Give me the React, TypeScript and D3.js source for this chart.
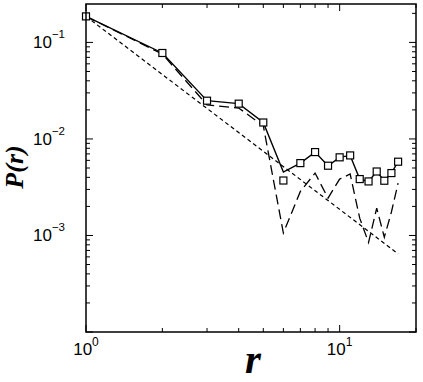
import React from "react";
import * as d3 from "d3";

// r = 1..17
const rValues = [1, 2, 3, 4, 5, 6, 7, 8, 9, 10, 11, 12, 13, 14, 15, 16, 17];
const solidValues = [0.186, 0.0777, 0.0249, 0.0232, 0.0148, 0.00454, 0.00562, 0.00731, 0.00528, 0.00645, 0.00675, 0.00384, 0.00363, 0.0046, 0.00369, 0.00443, 0.00581];
const squareValues = [0.186, 0.0777, 0.0249, 0.0232, 0.0148, 0.00371, 0.00562, 0.00731, 0.00528, 0.00645, 0.00675, 0.00384, 0.00363, 0.0046, 0.00369, 0.00443, 0.00581];
const dashedValues = [0.186, 0.0758, 0.0225, 0.0209, 0.0137, 0.00106, 0.00286, 0.00443, 0.00244, 0.00384, 0.00433, 0.00151, 0.000846, 0.00192, 0.00096, 0.00175, 0.00349];
// power-law guide line, endpoints only
const refR = [1, 17];
const refValues = [0.186, 0.000645];

const xTickValues = [1, 10];
const xTickExponents = ["0", "1"];
const yTickValues = [0.1, 0.01, 0.001];
const yTickExponents = ["\u22121", "\u22122", "\u22123"];

const W = 423;
const H = 382;
const margin = {top: 4, right: 7, bottom: 50, left: 86};

export default function App() {
    const x = d3.scaleLog().domain([1, 20]).range([margin.left, W - margin.right]);
    const y = d3.scaleLog().domain([1e-4, 0.25]).range([H - margin.bottom, margin.top]);

    const x0 = margin.left, x1 = W - margin.right;
    const y0 = H - margin.bottom, y1 = margin.top;

    const isMajor = (v: number) => Math.abs(Math.log10(v) - Math.round(Math.log10(v))) < 1e-6;

    const line = d3.line<[number, number]>()
        .x(d => x(d[0]))
        .y(d => y(d[1]));

    const solidPath = line(rValues.map((r, i) => [r, solidValues[i]]));
    const dashedPath = line(rValues.map((r, i) => [r, dashedValues[i]]));
    const refPath = line(refR.map((r, i) => [r, refValues[i]]));

    const xt = x.ticks();
    const yt = y.ticks();

    const sans = "'Liberation Sans', Arial, sans-serif";
    const serif = "'Liberation Serif', 'Times New Roman', serif";

    return (
        <svg width={W} height={H} style={{position: "absolute", left: 0, top: 0}}>
            <rect x={0} y={0} width={W} height={H} fill="#fff"/>

            {/* ticks on all four sides, pointing inward */}
            <g stroke="#000" strokeWidth={1}>
                {xt.map((v, i) => {
                    const len = isMajor(v) ? 7 : 4;
                    const px = x(v);
                    return (
                        <g key={"xt" + i}>
                            <line x1={px} x2={px} y1={y0} y2={y0 - len}/>
                            <line x1={px} x2={px} y1={y1} y2={y1 + len}/>
                        </g>
                    );
                })}
                {yt.map((v, i) => {
                    const len = isMajor(v) ? 7 : 4;
                    const py = y(v);
                    return (
                        <g key={"yt" + i}>
                            <line x1={x0} x2={x0 + len} y1={py} y2={py}/>
                            <line x1={x1} x2={x1 - len} y1={py} y2={py}/>
                        </g>
                    );
                })}
            </g>

            {/* data */}
            <path d={refPath || ""} fill="none" stroke="#000" strokeWidth={1.2} strokeDasharray="4,3"/>
            <path d={dashedPath || ""} fill="none" stroke="#000" strokeWidth={1.3} strokeDasharray="10,5"/>
            <path d={solidPath || ""} fill="none" stroke="#000" strokeWidth={1.4}/>
            {rValues.map((r, i) => (
                <rect key={"sq" + i} x={x(r) - 3.5} y={y(squareValues[i]) - 3.5} width={7} height={7}
                      fill="#fff" stroke="#000" strokeWidth={1.2}/>
            ))}

            {/* frame */}
            <rect x={x0} y={y1} width={x1 - x0} height={y0 - y1} fill="none" stroke="#000" strokeWidth={1.5}/>

            {/* tick labels */}
            {xTickValues.map((v, i) => (
                <text key={"xl" + i} x={x(v)} y={355} textAnchor="middle" fontFamily={sans} fontSize={17}>
                    10<tspan fontSize={12} dy={-9}>{xTickExponents[i]}</tspan>
                </text>
            ))}
            {yTickValues.map((v, i) => (
                <text key={"yl" + i} x={65} y={y(v) + 6} textAnchor="end" fontFamily={sans} fontSize={17}>
                    10<tspan fontSize={11.5} dy={-10}>{yTickExponents[i]}</tspan>
                </text>
            ))}

            {/* axis titles */}
            <text x={253} y={373} textAnchor="middle" fontFamily={serif} fontStyle="italic" fontWeight="bold" fontSize={41}>r</text>
            <text transform="translate(23,167) rotate(-90)" textAnchor="middle" fontFamily={serif}
                  fontStyle="italic" fontWeight="bold" fontSize={26}>P(r)</text>
        </svg>
    );
}
